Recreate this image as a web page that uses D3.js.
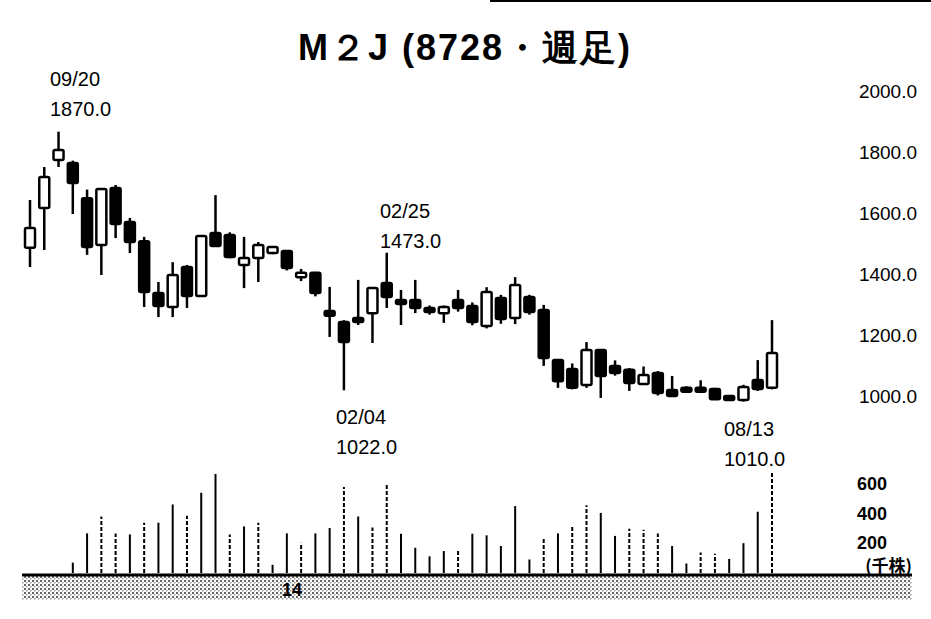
<!DOCTYPE html><html><head><meta charset="utf-8">
<script src="https://cdn.jsdelivr.net/npm/d3@7"></script>
<style>body{margin:0;background:#fff}</style></head><body>
<svg id="c" width="931" height="619"></svg>
<script>
const opens =[1489,1620,1777,1767,1652,1498,1685,1574,1511,1341,1295,1426,1331,1538,1531,1433,1456,1472,1479,1393,1407,1282,1246,1259,1275,1374,1318,1318,1292,1275,1318,1298,1233,1325,1259,1328,1285,1121,1092,1039,1154,1102,1089,1043,1079,1023,1030,1030,1026,1003,990,1056,1030];
const closes=[1554,1721,1810,1702,1492,1682,1567,1508,1344,1298,1400,1331,1528,1495,1459,1456,1498,1492,1423,1407,1341,1266,1180,1246,1357,1328,1308,1292,1279,1295,1292,1246,1344,1256,1367,1279,1128,1052,1030,1154,1069,1079,1046,1072,1013,1003,1023,1023,993,990,1033,1026,1144];
const highs =[1646,1754,1870,1775,1680,1682,1695,1587,1525,1377,1442,1433,1528,1662,1540,1525,1508,1495,1482,1420,1410,1361,1252,1384,1357,1473,1351,1384,1300,1300,1351,1310,1360,1335,1393,1335,1302,1121,1110,1180,1154,1120,1095,1100,1085,1069,1035,1055,1030,1010,1040,1121,1252];
const lows  =[1426,1482,1754,1600,1466,1400,1521,1472,1295,1262,1262,1292,1331,1495,1455,1357,1377,1468,1415,1380,1330,1197,1022,1236,1177,1292,1236,1275,1270,1243,1280,1235,1225,1240,1239,1270,1102,1030,1025,1030,997,1070,1020,1040,1005,1003,1020,1020,990,1010,985,1020,1025];
const volumes=[70,267,381,267,260,339,339,462,386,541,668,260,314,339,55,267,204,267,303,579,381,307,600,265,170,112,148,155,265,254,182,451,91,233,267,324,456,405,250,299,292,267,182,64,138,129,95,201,413,678];
const volDashed=[0,0,1,1,0,1,0,0,1,0,0,1,0,1,0,0,1,0,0,1,0,1,1,0,0,0,0,1,0,0,0,0,0,1,0,1,1,0,0,1,1,1,0,0,1,1,0,0,0,1];
const volStart=3;
const priceTicks=[1000,1200,1400,1600,1800,2000];
const volTicks=[200,400,600];
const notes=[{i:2,date:"09/20",val:"1870.0",x:50,y:86},{i:25,date:"02/25",val:"1473.0",x:380,y:218},{i:22,date:"02/04",val:"1022.0",x:336,y:424},{i:49,date:"08/13",val:"1010.0",x:724,y:436}];

const svg=d3.select("#c");
const x=d3.scaleLinear().domain([0,52]).range([30,772]);
const y=d3.scaleLinear().domain([1000,2000]).range([397,92]);
const yv=d3.scaleLinear().domain([0,600]).range([573,484]);
const F="'Liberation Sans',Arial,sans-serif";

svg.append("text").attr("x",465).attr("y",60).attr("text-anchor","middle").attr("font-family",F).attr("font-weight","bold").attr("font-size",36).attr("letter-spacing",2).text("M２J (8728・週足)");
svg.append("line").attr("x1",490).attr("x2",931).attr("y1",1).attr("y2",1).attr("stroke","#000").attr("stroke-width",2);

svg.append("g").selectAll("text").data(priceTicks).join("text").attr("x",917).attr("y",d=>y(d)+6).attr("text-anchor","end").attr("font-family","'Liberation Sans Narrow','Liberation Sans',sans-serif").attr("font-size",19).text(d=>d.toFixed(1));
svg.append("g").selectAll("text").data(volTicks).join("text").attr("x",887).attr("y",d=>yv(d)+6).attr("text-anchor","end").attr("font-family",F).attr("font-weight","bold").attr("font-size",18).text(d=>d);
svg.append("text").attr("x",912).attr("y",572).attr("text-anchor","end").attr("font-family","'Noto Sans CJK JP'").attr("font-weight","bold").attr("font-size",17).text("(千株)");

const idx=d3.range(opens.length);
const g=svg.append("g");
g.selectAll("line").data(idx).join("line").attr("x1",i=>x(i)).attr("x2",i=>x(i)).attr("y1",i=>y(highs[i])).attr("y2",i=>y(lows[i])).attr("stroke","#000").attr("stroke-width",2.5);
g.selectAll("rect").data(idx).join("rect").attr("x",i=>x(i)-5).attr("width",10)
 .attr("y",i=>y(Math.max(opens[i],closes[i]))).attr("height",i=>Math.max(4,Math.abs(y(opens[i])-y(closes[i]))))
 .attr("fill",i=>closes[i]>=opens[i]?"#fff":"#000").attr("stroke","#000").attr("stroke-width",2.5).attr("rx",1.5);

svg.append("g").selectAll("line").data(volumes).join("line").attr("x1",(d,k)=>x(k+volStart)).attr("x2",(d,k)=>x(k+volStart)).attr("y1",yv(0)).attr("y2",d=>yv(d)).attr("stroke","#000").attr("stroke-width",2).attr("stroke-dasharray",(d,k)=>volDashed[k]?"4,2":null);

const defs=svg.append("defs");
const p=defs.append("pattern").attr("id","dots").attr("width",4).attr("height",4).attr("patternUnits","userSpaceOnUse");
p.append("rect").attr("width",2).attr("height",2).attr("fill","#000");
p.append("rect").attr("x",2).attr("y",2).attr("width",1.5).attr("height",1.5).attr("fill","#555");
svg.append("rect").attr("x",22).attr("y",575).attr("width",890).attr("height",25).attr("fill","url(#dots)").attr("opacity",0.6);
svg.append("line").attr("x1",22).attr("x2",912).attr("y1",575).attr("y2",575).attr("stroke","#000").attr("stroke-width",3);
svg.append("text").attr("x",292).attr("y",596).attr("text-anchor","middle").attr("font-family",F).attr("font-weight","bold").attr("font-size",18).text("14");

const tg=svg.append("g").attr("font-family","'Liberation Sans Narrow','Liberation Sans',sans-serif").attr("font-size",20);
notes.forEach(n=>{tg.append("text").attr("x",n.x).attr("y",n.y).text(n.date);tg.append("text").attr("x",n.x).attr("y",n.y+30).text(n.val);});
</script></body></html>
